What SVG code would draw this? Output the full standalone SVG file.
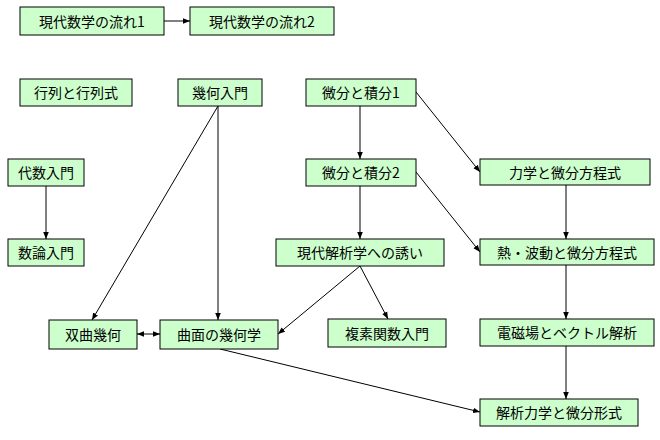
<svg xmlns="http://www.w3.org/2000/svg" width="660" height="440" viewBox="0 0 660 440">
<defs>
<marker id="a" viewBox="0 0 10 10" refX="10" refY="5" markerWidth="7" markerHeight="7" orient="auto-start-reverse"><path d="M0,1 L10,5 L0,9 z" fill="#000"/></marker>
<style>
.n rect{fill:#ccffcc;stroke:#000;stroke-width:1}
.n text{font-family:"Noto Sans CJK JP","Noto Sans",sans-serif;font-size:14px;text-anchor:middle;dominant-baseline:central;fill:#000}
#e line{stroke:#000;stroke-width:1;marker-end:url(#a)}
</style>
</defs>
<rect width="660" height="440" fill="#fff"/>
<g id="e">
<line x1="164" y1="21" x2="190" y2="21"/>
<line x1="218" y1="106" x2="92" y2="320"/>
<line x1="218" y1="106" x2="218" y2="320"/>
<line x1="360" y1="106" x2="360" y2="159"/>
<line x1="416" y1="92" x2="480" y2="172"/>
<line x1="46" y1="186" x2="46" y2="239"/>
<line x1="360" y1="186" x2="360" y2="239"/>
<line x1="416" y1="172" x2="480" y2="252"/>
<line x1="566" y1="185" x2="566" y2="239"/>
<line x1="360" y1="266" x2="278" y2="334"/>
<line x1="360" y1="266" x2="388" y2="319"/>
<line x1="137" y1="334" x2="160" y2="334" style="marker-start:url(#a)"/>
<line x1="566" y1="265" x2="566" y2="319"/>
<line x1="566" y1="346" x2="566" y2="399"/>
<line x1="220" y1="349" x2="480" y2="412"/>
</g>
<g id="n1" class="n"><rect x="20" y="7" width="144" height="28"/><text x="92" y="21">現代数学の流れ1</text></g>
<g id="n2" class="n"><rect x="190" y="7" width="144" height="28"/><text x="262" y="21">現代数学の流れ2</text></g>
<g id="n3" class="n"><rect x="20" y="79" width="112" height="27"/><text x="76" y="92">行列と行列式</text></g>
<g id="n4" class="n"><rect x="178" y="79" width="84" height="27"/><text x="220" y="92">幾何入門</text></g>
<g id="n5" class="n"><rect x="306" y="79" width="110" height="27"/><text x="361" y="92">微分と積分1</text></g>
<g id="n6" class="n"><rect x="8" y="159" width="76" height="27"/><text x="46" y="172">代数入門</text></g>
<g id="n7" class="n"><rect x="306" y="159" width="110" height="27"/><text x="361" y="172">微分と積分2</text></g>
<g id="n8" class="n"><rect x="480" y="159" width="170" height="26"/><text x="565" y="172">力学と微分方程式</text></g>
<g id="n9" class="n"><rect x="8" y="239" width="76" height="27"/><text x="46" y="252">数論入門</text></g>
<g id="n10" class="n"><rect x="276" y="239" width="168" height="27"/><text x="360" y="252">現代解析学への誘い</text></g>
<g id="n11" class="n"><rect x="480" y="239" width="174" height="26"/><text x="567" y="252">熱・波動と微分方程式</text></g>
<g id="n12" class="n"><rect x="49" y="320" width="88" height="29"/><text x="93" y="334">双曲幾何</text></g>
<g id="n13" class="n"><rect x="160" y="320" width="118" height="29"/><text x="219" y="334">曲面の幾何学</text></g>
<g id="n14" class="n"><rect x="328" y="319" width="118" height="28"/><text x="387" y="333">複素関数入門</text></g>
<g id="n15" class="n"><rect x="480" y="319" width="174" height="27"/><text x="567" y="332">電磁場とベクトル解析</text></g>
<g id="n16" class="n"><rect x="480" y="399" width="158" height="27"/><text x="559" y="412">解析力学と微分形式</text></g>
</svg>
